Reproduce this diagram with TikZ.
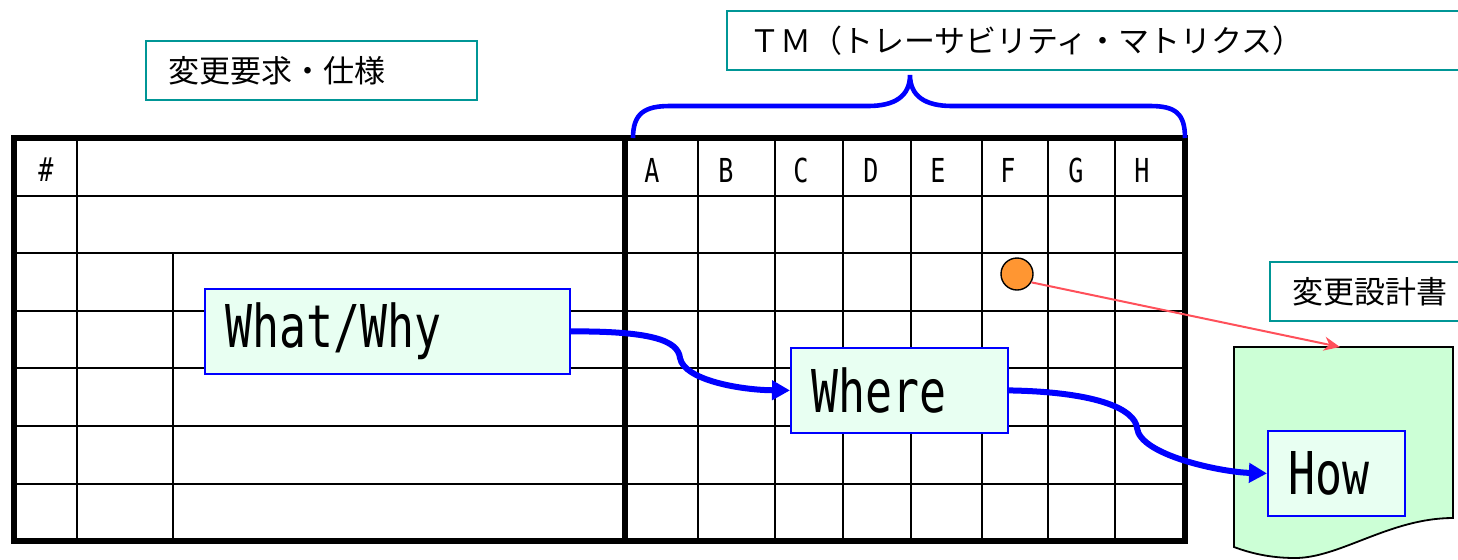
\documentclass[tikz,border=0pt]{standalone}
\usepackage{fontspec}
\newfontfamily\jpfont{Noto Sans CJK JP}
\newfontfamily\narrowmono[FakeStretch=0.76]{DejaVu Sans Mono}
\usetikzlibrary{arrows.meta}
\usetikzlibrary{positioning}
\definecolor{boxteal}{RGB}{0,150,150}
\definecolor{paleaqua}{RGB}{232,255,242}
\definecolor{docgreen}{RGB}{204,255,214}
\definecolor{dotorange}{RGB}{255,150,50}
\definecolor{linkred}{RGB}{255,80,90}
\tikzset{
grid_line/.style={line width=1.3pt},
heavy_line/.style={line width=2.6pt},
caption_box/.style={rectangle, draw=boxteal, line width=1pt, fill=white, anchor=north west, minimum height=29.5pt, inner xsep=11pt, align=left, font=\jpfont\fontsize{15.5}{18}\selectfont},
key_box/.style={rectangle, draw=blue, line width=0.9pt, fill=paleaqua, anchor=north west, minimum height=42.5pt, inner xsep=10.5pt, align=left, font=\narrowmono\fontsize{29.5}{30}\selectfont},
col_label/.style={font=\narrowmono\fontsize{16.5}{18}\selectfont},
hit_dot/.style={circle, draw=black, line width=0.7pt, fill=dotorange, minimum size=16pt, inner sep=0pt},
flow/.style={draw=blue, line width=3pt, -{Triangle[length=9pt,width=9.5pt]}}
}
\begin{document}
\begin{tikzpicture}[x=0.5pt, y=-0.5pt]
    \useasboundingbox (0,0) rectangle (1458,559);
    \foreach \y in {196,253,311,368,426,484}
        \draw[grid_line] (14,\y) -- (1185,\y);
    \draw[grid_line] (77,138) -- (77,541);
    \draw[grid_line] (173,253) -- (173,541);
    \foreach \x in {698,775,843,911,982,1048,1115}
        \draw[grid_line] (\x,138) -- (\x,541);
    \draw[heavy_line] (14,138) rectangle (1185,541);
    \draw[heavy_line] (625,138) -- (625,541);

    \node[col_label] (hash) at (46,170) {\#};
    \foreach \name/\x in {A/652,B/726,C/801,D/871,E/938,F/1008,G/1076,H/1142}
        \node[col_label] (col\name) at (\x,170) {\name};

    \node[caption_box, text width=143.5pt] (req_label) at (145,40) {変更要求・仕様};
    \node[caption_box, text width=355pt] (tm_label) at (726,10) {ＴＭ（トレーサビリティ・マトリクス）};
    \draw[blue, line width=2.3pt] (633,138) .. controls (633,113) and (645,106) .. (670,106) -- (868,106)
        .. controls (895,106) and (910,96) .. (910,75) .. controls (910,96) and (925,106) .. (952,106)
        -- (1150,106) .. controls (1175,106) and (1185,113) .. (1185,138);

    \node[caption_box, text width=83pt] (design_label) at (1269,261) {変更設計書};
    \draw[fill=docgreen, line width=0.9pt] (1234,347) -- (1453,347) -- (1453,518)
        .. controls (1390,518) and (1340,558) .. (1295,558)
        .. controls (1270,558) and (1250,553) .. (1234,547) -- cycle;
    \coordinate (doc_top) at (1340,347);

    \node[key_box, text width=161.5pt] (what_box) at (204,288) {What/Why};
    \node[key_box, text width=87.5pt] (where_box) at (790,347) {Where};
    \node[key_box, text width=47.5pt] (how_box) at (1267,430) {How};

    \node[hit_dot] (hit) at (1017,274) {};
    \draw[linkred, line width=1pt, -{Stealth[length=8pt,width=7pt]}] (hit.-30) -- (doc_top);

    \draw[flow] (what_box.east) .. controls (650,331) and (678,340) .. (680,358)
        .. controls (684,380) and (740,390) .. (where_box.west);
    \draw[flow] (where_box.east) .. controls (1100,392) and (1135,410) .. (1137,428)
        .. controls (1140,455) and (1220,472) .. (how_box.west);
\end{tikzpicture}
\end{document}
